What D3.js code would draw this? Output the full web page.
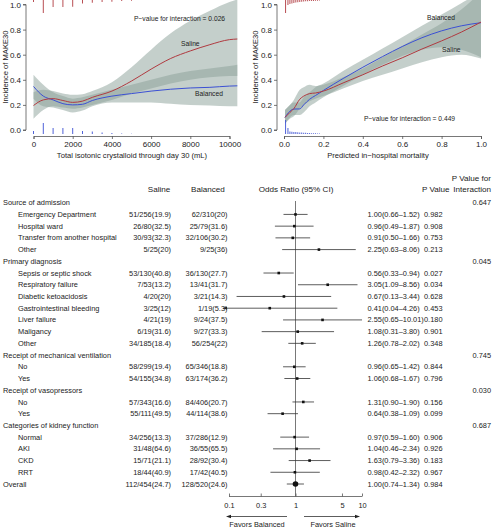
<!DOCTYPE html>
<html><head><meta charset="utf-8">
<script src="https://cdn.jsdelivr.net/npm/d3@7"></script>
<style>
body{margin:0;background:#fff}
svg{display:block}
text{font-family:"Liberation Sans",Arial,Helvetica,sans-serif;fill:#222}
</style>
</head><body>
<svg id="c" width="494" height="529"></svg>
<script>
// ---------------- DATA ----------------
// Left panel: total isotonic crystalloid (mL)
const fluidX        = [0,500,1000,1500,2000,2500,3000,4000,5000,6000,7000,8000,9000,10000,10400];
const fluidSaline   = [0.195,0.24,0.25,0.235,0.22,0.23,0.26,0.31,0.39,0.485,0.57,0.63,0.68,0.72,0.725];
const fluidSalineLo = [0.09,0.16,0.19,0.18,0.17,0.18,0.20,0.24,0.29,0.33,0.37,0.40,0.42,0.43,0.43];
const fluidSalineHi = [0.30,0.32,0.31,0.29,0.28,0.285,0.31,0.38,0.50,0.64,0.77,0.87,0.95,1.02,1.04];
const fluidBal      = [0.347,0.27,0.24,0.21,0.20,0.205,0.235,0.27,0.29,0.31,0.325,0.335,0.34,0.35,0.352];
const fluidBalLo    = [0.25,0.19,0.18,0.16,0.14,0.155,0.19,0.22,0.22,0.22,0.21,0.20,0.195,0.19,0.19];
const fluidBalHi    = [0.44,0.36,0.30,0.27,0.25,0.26,0.28,0.32,0.36,0.40,0.44,0.47,0.49,0.51,0.52];
const fluidTicks    = [0,2000,4000,6000,8000,10000];
const fluidRugX     = [0,500,1000,1500,2000,2500,3000,3500,4000,4500,5000];
const fluidRugSaline= [8,52,28,28,27,14,11,8,7,4,3];
const fluidRugBal   = [12,44,24,24,24,12,10,6,4,2,1];
const fluidP = "P\u2212value for interaction = 0.026";

// Right panel: predicted in-hospital mortality
const mortX        = [0.005,0.03,0.05,0.08,0.1,0.13,0.16,0.2,0.3,0.4,0.5,0.6,0.7,0.8,0.9,1.0];
const mortSaline   = [0.10,0.14,0.17,0.245,0.27,0.29,0.295,0.31,0.375,0.44,0.51,0.575,0.645,0.71,0.78,0.86];
const mortSalineLo = [0.05,0.09,0.11,0.17,0.20,0.23,0.25,0.27,0.33,0.39,0.44,0.49,0.54,0.58,0.60,0.57];
const mortSalineHi = [0.16,0.20,0.24,0.32,0.34,0.36,0.35,0.36,0.42,0.49,0.58,0.67,0.76,0.85,0.96,1.10];
const mortBal      = [0.10,0.15,0.167,0.168,0.20,0.245,0.275,0.315,0.41,0.50,0.585,0.665,0.735,0.79,0.83,0.855];
const mortBalLo    = [0.05,0.10,0.12,0.12,0.14,0.19,0.22,0.26,0.35,0.44,0.52,0.59,0.64,0.66,0.64,0.58];
const mortBalHi    = [0.16,0.20,0.22,0.22,0.26,0.30,0.34,0.37,0.47,0.56,0.65,0.74,0.83,0.92,1.01,1.10];
const mortTicks    = [0,0.2,0.4,0.6,0.8,1.0];
const mortRugX     = [0.008,0.02,0.03,0.04,0.05,0.06,0.07,0.08,0.09,0.10,0.11,0.12,0.13,0.14,0.15,0.16,0.17,0.18];
const mortRugSaline= [52,20,16,14,12,10,9,8,7,6,5,5,4,4,4,3,3,2];
const mortRugBal   = [56,24,10,9,8,8,7,6,6,5,5,4,4,3,3,3,2,2];
const mortP = "P\u2212value for interaction = 0.449";

const yTicks = [0,0.2,0.4,0.6,0.8,1.0];

// Forest plot
const groupNames = ["Source of admission","Primary diagnosis","Receipt of mechanical ventilation","Receipt of vasopressors","Categories of kidney function"];
const groupPInt  = ["0.647","0.045","0.745","0.030","0.687"];
const groupSizes = [4,7,2,2,4];
const subNames = ["Emergency Department","Hospital ward","Transfer from another hospital","Other",
  "Sepsis or septic shock","Respiratory failure","Diabetic ketoacidosis","Gastrointestinal bleeding","Liver failure","Maligancy","Other",
  "No","Yes","No","Yes","Normal","AKI","CKD","RRT"];
const salEvents = [51,26,30,5,53,7,4,3,4,6,34,58,54,57,55,34,31,15,18];
const salTotals = [256,80,93,25,130,53,20,25,21,19,185,299,155,343,111,256,48,71,44];
const balEvents = [62,25,32,9,36,13,3,1,9,9,56,65,63,84,44,37,36,28,17];
const balTotals = [310,79,106,25,130,41,21,19,24,27,254,346,174,406,114,286,55,92,42];
const orVal = [1.00,0.96,0.91,2.25,0.56,3.05,0.67,0.41,2.55,1.08,1.26,0.96,1.06,1.31,0.64,0.97,1.04,1.63,0.98];
const orLo  = [0.66,0.49,0.50,0.63,0.33,1.09,0.13,0.04,0.65,0.31,0.78,0.65,0.68,0.90,0.38,0.59,0.46,0.79,0.42];
const orHi  = [1.52,1.87,1.66,8.06,0.94,8.56,3.44,4.26,10.01,3.80,2.02,1.42,1.67,1.90,1.09,1.60,2.34,3.36,2.32];
const pVals = ["0.982","0.908","0.753","0.213","0.027","0.034","0.628","0.453","0.180","0.901","0.348","0.844","0.796","0.156","0.099","0.906","0.926","0.183","0.967"];
const overallName = "Overall";
const overallSal = [112,454];
const overallBal = [128,520];
const overallOR = [1.00,0.74,1.34];
const overallP = "0.984";
const orTicks = [0.1,0.3,1,5,10];
const orTickLabels = ["0.1","0.3","1","5","10"];

// ---------------- DRAW ----------------
const svg = d3.select("#c");
const RED = "#b03a40", BLUE = "#3b50d4", AX = "#555";
const BAND = "#8a9f98";

const yT = d3.scaleLinear().domain([0,1]).range([130,4.5]);

function panel(o){
  const g = svg.append("g");
  const clipId = "clip"+o.id;
  svg.append("clipPath").attr("id",clipId).append("rect")
     .attr("x",o.axisX+1).attr("y",0).attr("width",o.right-o.axisX-1).attr("height",134.5);
  const pg = g.append("g").attr("clip-path","url(#"+clipId+")");
  const x = o.x;
  const area = (lo,hi)=>d3.area().x((d,i)=>x(o.xs[i])).y0((d,i)=>yT(lo[i])).y1((d,i)=>yT(hi[i])).curve(d3.curveMonotoneX);
  const line = (v)=>d3.line().x((d,i)=>x(o.xs[i])).y((d,i)=>yT(v[i])).curve(d3.curveMonotoneX);
  pg.append("path").attr("d",area(o.salLo,o.salHi)(o.xs)).attr("fill",BAND).attr("fill-opacity",0.5);
  pg.append("path").attr("d",area(o.balLo,o.balHi)(o.xs)).attr("fill",BAND).attr("fill-opacity",0.5);
  pg.append("path").attr("d",line(o.bal)(o.xs)).attr("fill","none").attr("stroke",BLUE).attr("stroke-width",1);
  pg.append("path").attr("d",line(o.sal)(o.xs)).attr("fill","none").attr("stroke",RED).attr("stroke-width",1);
  // rugs
  const rl = d3.scaleLinear().domain([0,52]).range([0,13]);
  g.selectAll(null).data(o.rugX).join("line")
    .attr("x1",d=>x(d)).attr("x2",d=>x(d)).attr("y1",0).attr("y2",(d,i)=>rl(o.rugSal[i]))
    .attr("stroke",RED).attr("stroke-width",0.9);
  g.selectAll(null).data(o.rugX).join("line")
    .attr("x1",d=>x(d)).attr("x2",d=>x(d)).attr("y1",134).attr("y2",(d,i)=>134-rl(o.rugBal[i]))
    .attr("stroke",BLUE).attr("stroke-width",0.9);
  // axes
  const ya = g.append("g").attr("transform",`translate(${o.axisX},0)`)
    .call(d3.axisLeft(yT).tickValues(yTicks).tickFormat(d3.format(".1f")).tickSize(3).tickPadding(2));
  const xa = g.append("g").attr("transform","translate(0,136)")
    .call(d3.axisBottom(x).tickValues(o.ticks).tickFormat(o.fmt).tickSize(3).tickPadding(2));
  [ya,xa].forEach(a=>{
    a.select(".domain").attr("stroke",AX).attr("stroke-width",0.8);
    a.selectAll(".tick line").attr("stroke",AX).attr("stroke-width",0.8);
    a.selectAll("text").attr("font-size",8).attr("fill","#333").attr("font-family",null);
  });
  ya.select(".domain").attr("d",`M-3,${yT(0)}H0V${yT(1)}H-3`);
  g.append("text").attr("transform",`translate(${o.titleX},67) rotate(-90)`).attr("text-anchor","middle")
    .attr("dy","0.35em").attr("font-size",7.6).attr("fill","#333").text("Incidence of MAKE30");
  g.append("text").attr("x",o.xTitleX).attr("y",155.5).attr("text-anchor","middle").attr("dy","0.35em")
    .attr("font-size",7.6).attr("fill","#333").text(o.xTitle);
  o.labels.forEach(l=>{
    g.append("text").attr("x",l[0]).attr("y",l[1]).attr("dy","0.35em").attr("font-size",6.7)
      .attr("fill",l[3]).text(l[2]);
  });
}

panel({id:"L", x:d3.scaleLinear().domain([0,10000]).range([33.5,229.5]), axisX:26, right:240,
  xs:fluidX, sal:fluidSaline, salLo:fluidSalineLo, salHi:fluidSalineHi, bal:fluidBal, balLo:fluidBalLo, balHi:fluidBalHi,
  rugX:fluidRugX, rugSal:fluidRugSaline, rugBal:fluidRugBal, ticks:fluidTicks, fmt:d3.format("d"),
  titleX:5.5, xTitleX:132, xTitle:"Total isotonic crystalloid through day 30 (mL)",
  labels:[[134,18.5,fluidP,"#333"],[181,43.5,"Saline",RED],[195,93.5,"Balanced",BLUE]]});

panel({id:"R", x:d3.scaleLinear().domain([0,1]).range([284,481]), axisX:277, right:492,
  xs:mortX, sal:mortSaline, salLo:mortSalineLo, salHi:mortSalineHi, bal:mortBal, balLo:mortBalLo, balHi:mortBalHi,
  rugX:mortRugX, rugSal:mortRugSaline, rugBal:mortRugBal, ticks:mortTicks, fmt:d3.format(".1f"),
  titleX:255, xTitleX:378, xTitle:"Predicted in\u2212hospital mortality",
  labels:[[364,118.5,mortP,"#333"],[427,17.5,"Balanced",BLUE],[442,50,"Saline",RED]]});

// ---------------- FOREST ----------------
const rows = [];
let k = 0;
groupNames.forEach((gname,gi)=>{
  rows.push({type:"group",name:gname,pint:groupPInt[gi]});
  for(let j=0;j<groupSizes[gi];j++,k++){
    rows.push({type:"sub",name:subNames[k],se:salEvents[k],st:salTotals[k],be:balEvents[k],bt:balTotals[k],
      or:orVal[k],lo:orLo[k],hi:orHi[k],p:pVals[k]});
  }
});
rows.push({type:"overall",name:overallName,se:overallSal[0],st:overallSal[1],be:overallBal[0],bt:overallBal[1],
  or:overallOR[0],lo:overallOR[1],hi:overallOR[2],p:overallP});

const yR = d3.scalePoint().domain(d3.range(rows.length)).range([202.7,484]);
const xOR = d3.scaleLog().domain([0.1,10]).range([229,362]);
const pct = (e,t)=>String(+(e/t*100).toFixed(1));
const fs = 7.4;
const fg = svg.append("g");

// headers
const hfs = 8.1;
[["Saline",159,"middle"],["Balanced",208,"middle"],["Odds Ratio (95% CI)",296,"middle"],["P Value",422,"start"]].forEach(h=>{
  fg.append("text").attr("x",h[1]).attr("y",189).attr("dy","0.35em").attr("text-anchor",h[2]).attr("font-size",hfs).text(h[0]);
});
fg.append("text").attr("x",491).attr("y",178).attr("dy","0.35em").attr("text-anchor","end").attr("font-size",hfs).text("P Value for");
fg.append("text").attr("x",491).attr("y",189).attr("dy","0.35em").attr("text-anchor","end").attr("font-size",hfs).text("Interaction");

// reference line at OR = 1
fg.append("line").attr("x1",xOR(1)).attr("x2",xOR(1)).attr("y1",201).attr("y2",496.5).attr("stroke","#555").attr("stroke-width",0.8);

rows.forEach((r,i)=>{
  const y = yR(i);
  fg.append("text").attr("x",r.type==="sub"?18:3).attr("y",y).attr("dy","0.35em").attr("font-size",fs).text(r.name);
  if(r.type==="group"){
    fg.append("text").attr("x",491).attr("y",y).attr("dy","0.35em").attr("text-anchor","end").attr("font-size",fs).text(r.pint);
    return;
  }
  fg.append("text").attr("x",171).attr("y",y).attr("dy","0.35em").attr("text-anchor","end").attr("font-size",fs)
    .text(`${r.se}/${r.st}(${pct(r.se,r.st)})`);
  fg.append("text").attr("x",227.5).attr("y",y).attr("dy","0.35em").attr("text-anchor","end").attr("font-size",fs)
    .text(`${r.be}/${r.bt}(${pct(r.be,r.bt)})`);
  fg.append("text").attr("x",367.5).attr("y",y).attr("dy","0.35em").attr("font-size",fs)
    .text(`${r.or.toFixed(2)}(${r.lo.toFixed(2)}\u2013${r.hi.toFixed(2)})`);
  fg.append("text").attr("x",424).attr("y",y).attr("dy","0.35em").attr("font-size",fs).text(r.p);
  // CI
  const clipped = r.lo < 0.1;
  const x1 = clipped ? xOR(0.1)-6 : xOR(r.lo);
  fg.append("line").attr("x1",x1).attr("x2",xOR(Math.min(r.hi,10.5))).attr("y1",y).attr("y2",y)
    .attr("stroke","#333").attr("stroke-width",0.8);
  if(clipped){
    fg.append("path").attr("d",`M${x1},${y}l4,-1.6v3.2z`).attr("fill","#222");
  }
  if(r.type==="overall"){
    fg.append("circle").attr("cx",xOR(r.or)).attr("cy",y).attr("r",2.8).attr("fill","#111");
  } else {
    fg.append("rect").attr("x",xOR(r.or)-1.3).attr("y",y-1.3).attr("width",2.6).attr("height",2.6).attr("fill","#111");
  }
});

// OR axis
const oa = fg.append("g").attr("transform","translate(0,496.5)")
  .call(d3.axisBottom(xOR).tickValues(orTicks).tickFormat((d,i)=>orTickLabels[i]).tickSize(-3).tickPadding(6));
oa.select(".domain").attr("stroke","#555").attr("stroke-width",0.8).attr("d",`M${xOR(0.1)},0H${xOR(10)}`);
oa.selectAll(".tick line").attr("stroke","#555").attr("stroke-width",0.8);
oa.selectAll("text").attr("font-size",fs).attr("fill","#222").attr("font-family",null);

// favors arrows
const ay = 516.5;
fg.append("line").attr("x1",287).attr("x2",229).attr("y1",ay).attr("y2",ay).attr("stroke","#333").attr("stroke-width",0.8);
fg.append("path").attr("d",`M226,${ay}l5,-1.8v3.6z`).attr("fill","#222");
fg.append("line").attr("x1",304).attr("x2",357).attr("y1",ay).attr("y2",ay).attr("stroke","#333").attr("stroke-width",0.8);
fg.append("path").attr("d",`M360,${ay}l-5,-1.8v3.6z`).attr("fill","#222");
fg.append("text").attr("x",257).attr("y",524.5).attr("dy","0.35em").attr("text-anchor","middle").attr("font-size",fs).text("Favors Balanced");
fg.append("text").attr("x",333).attr("y",524.5).attr("dy","0.35em").attr("text-anchor","middle").attr("font-size",fs).text("Favors Saline");
</script>
</body></html>
